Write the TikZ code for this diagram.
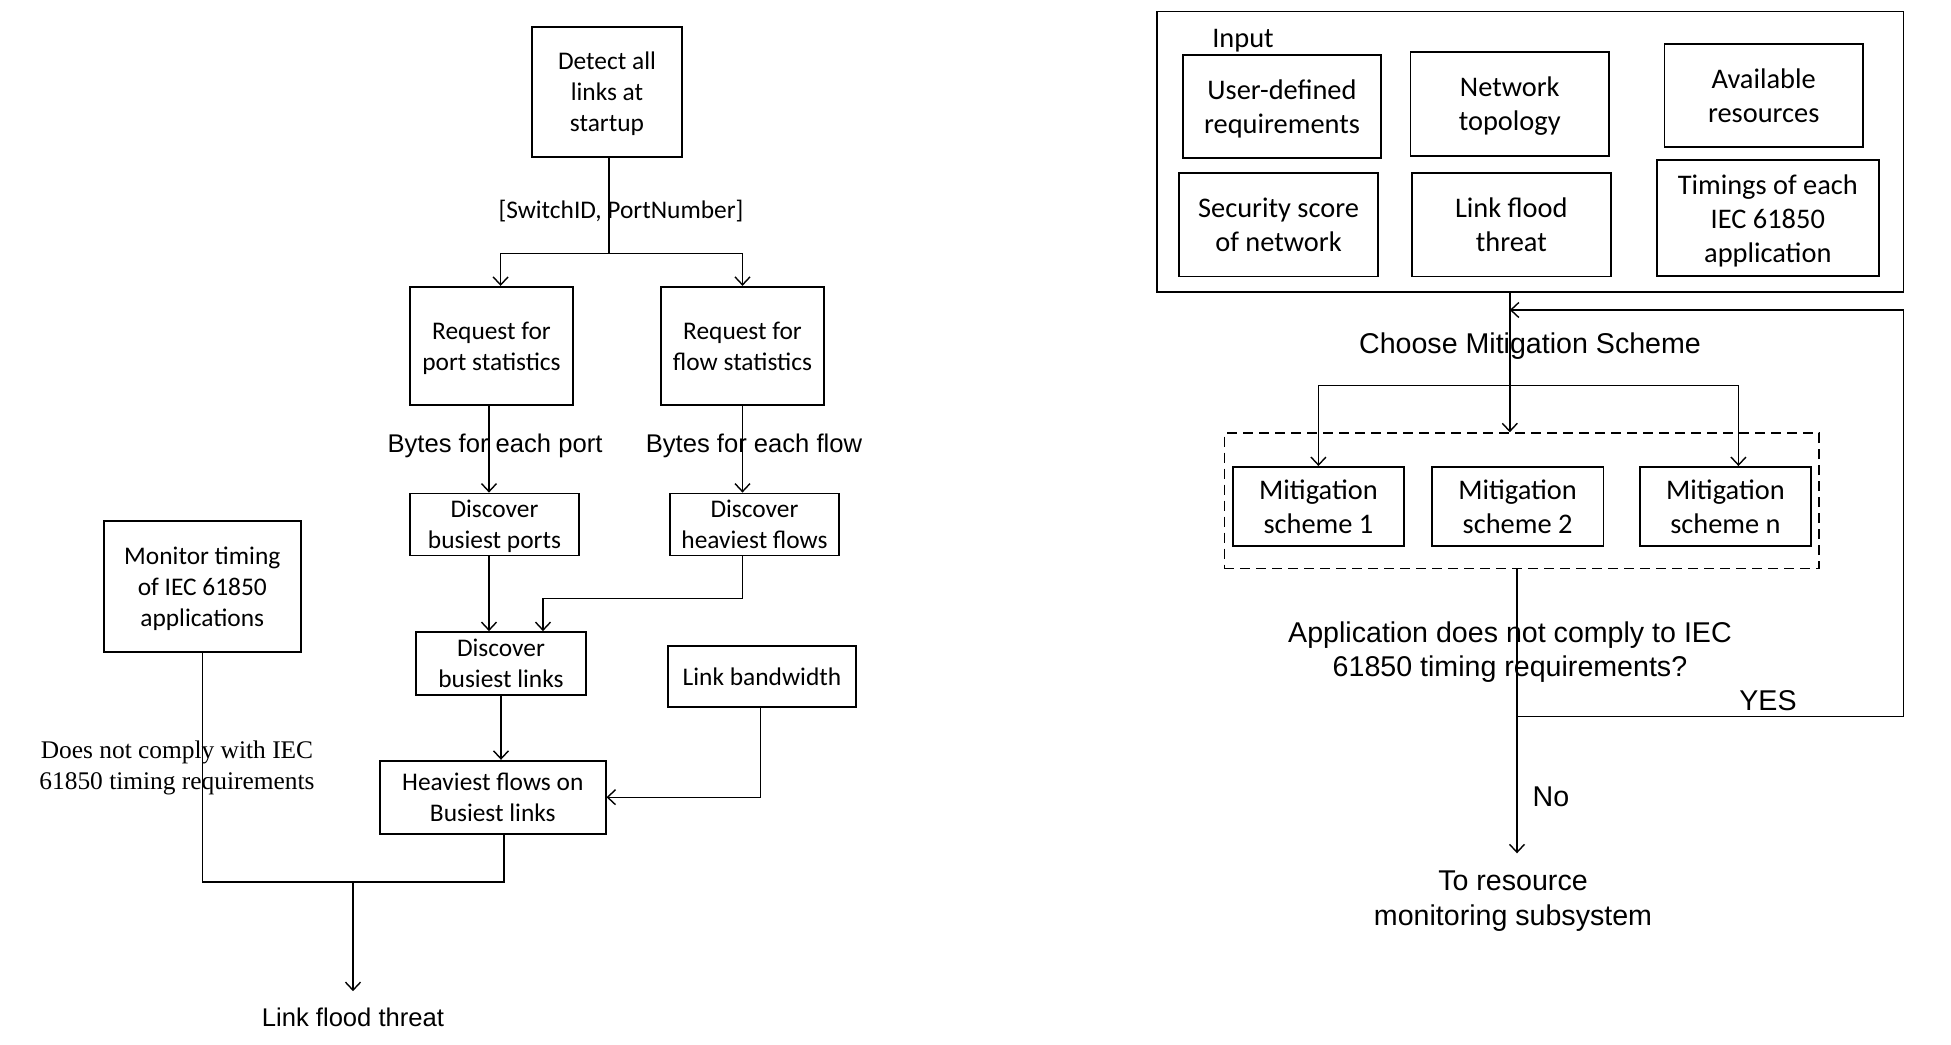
\documentclass[tikz,border=0pt]{standalone}
\usepackage{fontspec}
\usetikzlibrary{arrows.meta}
\newfontfamily\calfont{Carlito}
\newfontfamily\arifont{Liberation Sans}
\newfontfamily\tmsfont{Liberation Serif}
\tikzset{
  box/.style={draw, line width=0.9pt, inner sep=0pt, align=center, text depth=0pt},
  lfont/.style={font=\calfont\fontsize{12.7}{15.5}\selectfont},
  rfont/.style={font=\calfont\fontsize{14.2}{17}\selectfont},
  alab/.style={inner sep=0pt, align=center, font=\arifont\fontsize{12.8}{15.5}\selectfont},
  blab/.style={inner sep=0pt, align=center, font=\arifont\fontsize{14.3}{17.3}\selectfont},
  tlab/.style={inner sep=0pt, align=center, font=\tmsfont\fontsize{12.7}{15.2}\selectfont},
  conn/.style={line width=0.7pt},
  arr/.style={conn, -{Straight Barb[length=4pt,width=7.5pt,line width=0.7pt]}},
  dashbox/.style={draw, line width=0.8pt, dash pattern=on 5pt off 3pt, inner sep=0pt}
}
\begin{document}
\begin{tikzpicture}[x=0.5pt, y=-0.5pt]
\useasboundingbox (0,0) rectangle (1951,1045);

% ---------------- link flood detection ----------------
\node[box,lfont,minimum width=75pt,minimum height=65.25pt] (detect) at (607,92) {Detect all\\links at\\startup};
\node[box,lfont,minimum width=81.5pt,minimum height=59.2pt] (reqport) at (491.5,346) {Request for\\port statistics};
\node[box,lfont,minimum width=81.5pt,minimum height=59.2pt] (reqflow) at (742.5,346) {Request for\\flow statistics};
\node[box,lfont,minimum width=84.5pt,minimum height=31pt] (discports) at (494.5,524.5) {Discover\\busiest ports};
\node[box,lfont,minimum width=84.5pt,minimum height=31pt] (discflows) at (754.5,524.5) {Discover\\heaviest flows};
\node[box,lfont,minimum width=85pt,minimum height=31.35pt] (disclinks) at (501,663.4) {Discover\\busiest links};
\node[box,lfont,minimum width=94pt,minimum height=30.5pt] (bandwidth) at (762,676.5) {Link bandwidth};
\node[box,lfont,minimum width=112.8pt,minimum height=36.5pt] (heavy) at (492.8,797.2) {Heaviest flows on\\Busiest links};
\node[box,lfont,minimum width=98.3pt,minimum height=65.5pt] (monitor) at (202.3,586.5) {Monitor timing\\of IEC 61850\\applications};

\node[lfont,inner sep=0pt] (swlab) at (621,211) {[SwitchID, PortNumber]};
\node[alab] (bport) at (495,446.3) {Bytes for each port};
\node[alab] (bflow) at (754,446.3) {Bytes for each flow};
\node[tlab] (nocomply) at (177,768) {Does not comply with IEC\\61850 timing requirements};
\node[alab] (flood) at (353,1017) {Link flood threat};

\coordinate (ja) at (609,253.5);
\coordinate (xp) at (489,0);
\coordinate (bend) at (543,598.4);
\coordinate (jb) at (353,882);

\draw[conn] (detect.south -| ja) -- (ja);
\draw[arr] (ja) -| ([xshift=4.55pt]reqport.north);
\draw[arr] (ja) -| (reqflow.north);
\draw[arr] (reqport.south -| xp) -- (discports.north -| xp);
\draw[arr] (reqflow.south) -- (discflows.north -| reqflow.south);
\draw[arr] (discports.south -| xp) -- (disclinks.north -| xp);
\draw[arr] ([xshift=-6pt]discflows.south) |- (bend) -- (disclinks.north -| bend);
\draw[arr] (disclinks.south) -- (heavy.north -| disclinks.south);
\draw[arr] ([xshift=-0.7pt]bandwidth.south) |- (heavy.east);
\draw[conn] (monitor.south) |- (jb);
\draw[conn] ([xshift=5.6pt]heavy.south) |- (jb);
\draw[arr] (jb) -- ([yshift=8pt]flood.north);

% ---------------- mitigation selection ----------------
\node[box,minimum width=373.2pt,minimum height=140.2pt] (input) at (1530.2,151.6) {};
\node[rfont,inner sep=0pt] (inlab) at (1243,41) {Input};
\node[box,rfont,minimum width=99pt,minimum height=51.6pt] (userdef) at (1282,106.2) {User-defined\\requirements};
\node[box,rfont,minimum width=99.25pt,minimum height=51.85pt] (nettopo) at (1509.75,103.85) {Network\\topology};
\node[box,rfont,minimum width=99.3pt,minimum height=51.6pt] (avail) at (1763.7,95.2) {Available\\resources};
\node[box,rfont,minimum width=99.5pt,minimum height=51.8pt] (security) at (1278.5,224.6) {Security score\\of network};
\node[box,rfont,minimum width=99.3pt,minimum height=51.8pt] (lflood) at (1511.3,224.6) {Link flood\\threat};
\node[box,rfont,minimum width=110.8pt,minimum height=58pt] (timings) at (1767.8,218.35) {Timings of each\\IEC 61850\\application};

\node[dashbox,minimum width=297.35pt,minimum height=67.6pt] (dashed) at (1521.65,500.7) {};
\node[box,rfont,minimum width=85.85pt,minimum height=39.35pt] (mit1) at (1318.45,506.3) {Mitigation\\scheme 1};
\node[box,rfont,minimum width=85.85pt,minimum height=39.35pt] (mit2) at (1517.55,506.3) {Mitigation\\scheme 2};
\node[box,rfont,minimum width=85.85pt,minimum height=39.35pt] (mitn) at (1725.45,506.3) {Mitigation\\scheme n};

\node[blab] (choose) at (1530,346) {Choose Mitigation Scheme};
\node[blab] (question) at (1510,652.2) {Application does not comply to IEC\\61850 timing requirements?};
\node[blab] (yes) at (1768,700.7) {YES};
\node[blab] (no) at (1551,796.5) {No};
\node[blab] (toresource) at (1513,901) {To resource\\monitoring subsystem};

\coordinate (xm) at (1509.8,0);
\coordinate (split) at (1509.8,385.7);
\coordinate (fbend) at (1509.8,310);
\coordinate (fbc) at (1903.4,310);
\coordinate (jc) at (1517,716.7);
\coordinate (tip) at (1517,853.3);

\draw[arr] (input.south -| xm) -- (dashed.north -| xm);
\draw[arr] (split) -| (mit1.north);
\draw[arr] (split) -| ([xshift=6.5pt]mitn.north);
\draw[conn] (dashed.south -| jc) -- (jc);
\draw[arr] (jc) -- (tip);
\draw[arr] (jc) -| (fbc) -- (fbend);
\end{tikzpicture}
\end{document}
